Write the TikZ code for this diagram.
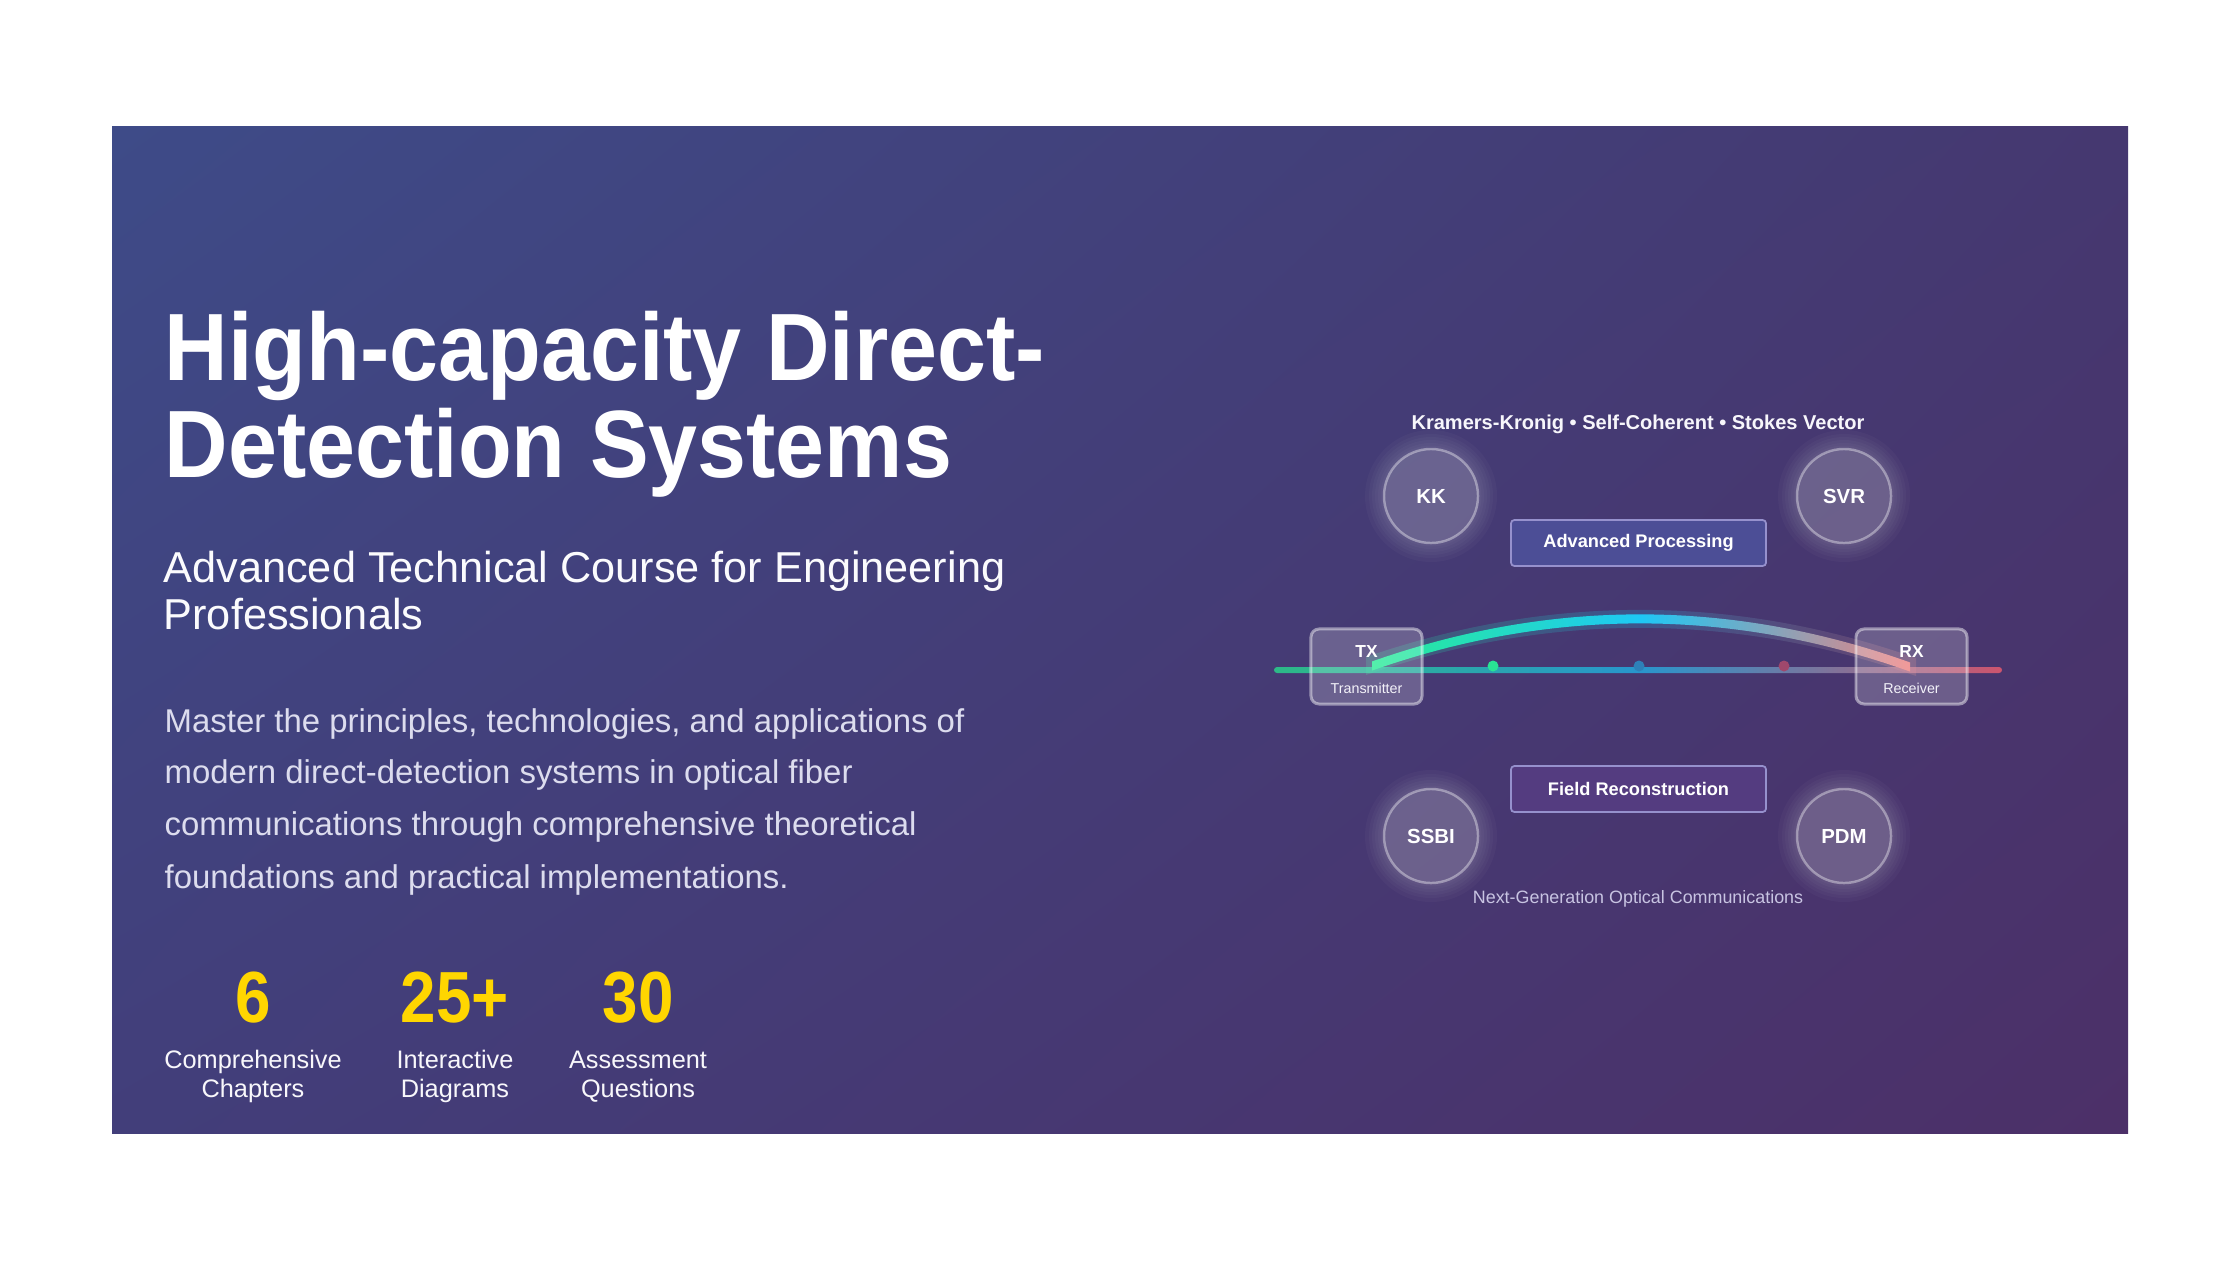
\documentclass[tikz,border=0pt]{standalone}
\usepackage{fontspec}
\setmainfont{Liberation Sans}
\newfontfamily\condfont[FakeStretch=0.92]{Liberation Sans}
\newfontfamily\numfont[FakeStretch=0.88]{Liberation Sans}
\usetikzlibrary{shadings}
\definecolor{bgUL}{RGB}{62,75,136}
\definecolor{bgUR}{RGB}{69,56,112}
\definecolor{bgLL}{RGB}{66,62,122}
\definecolor{bgLR}{RGB}{76,48,104}
\definecolor{paraC}{RGB}{220,220,238}
\definecolor{statY}{RGB}{255,214,0}
\definecolor{lav}{RGB}{150,145,205}
\definecolor{advF}{RGB}{76,78,150}
\definecolor{fldF}{RGB}{84,60,128}
\definecolor{fibG}{RGB}{45,185,135}
\definecolor{fibB}{RGB}{40,150,205}
\definecolor{fibR}{RGB}{205,85,110}
\definecolor{arcG}{RGB}{40,235,150}
\definecolor{arcC}{RGB}{30,200,245}
\definecolor{arcR}{RGB}{238,128,128}
\definecolor{nextC}{RGB}{200,196,226}
\begin{document}
\begin{tikzpicture}[x=0.01cm,y=-0.01cm,
  title/.style={anchor=base west,inner sep=0pt,text=white,font=\condfont\fontsize{27.2}{30}\selectfont\bfseries},
  subt/.style={anchor=base west,inner sep=0pt,text=white!96!lav,font=\fontsize{12.3}{15}\selectfont},
  para/.style={anchor=base west,inner sep=0pt,text=paraC,font=\fontsize{9.36}{12}\selectfont},
  statnum/.style={anchor=base,inner sep=0pt,text=statY,font=\numfont\fontsize{20.6}{24}\selectfont\bfseries},
  statlbl/.style={anchor=base,inner sep=0pt,text=white!93!lav,font=\fontsize{7.2}{9}\selectfont},
  circ/.style={circle,minimum size=0.94cm,inner sep=0pt,fill=white,fill opacity=0.08,text opacity=1,
    draw=white,draw opacity=0.38,line width=0.7pt,text=white,font=\fontsize{5.8}{7}\selectfont\bfseries},
  pbox/.style={rectangle,rounded corners=1pt,minimum width=2.55cm,minimum height=0.46cm,inner sep=0pt,
    draw=lav,line width=0.5pt,text=white,font=\fontsize{5.18}{6}\selectfont\bfseries},
  trx/.style={rectangle,rounded corners=2.3pt,minimum width=1.11cm,minimum height=0.75cm,inner sep=0pt,
    fill=white,fill opacity=0.2,draw=white,draw opacity=0.45,line width=0.85pt},
  trxT/.style={anchor=base,inner sep=0pt,text=white,font=\fontsize{4.95}{6}\selectfont\bfseries},
  trxS/.style={anchor=base,inner sep=0pt,text=white!88!lav,font=\fontsize{4.07}{5}\selectfont},
  dotn/.style={circle,minimum size=0.11cm,inner sep=0pt},
  hdr/.style={anchor=base,inner sep=0pt,text=white!92!lav,font=\fontsize{5.7}{7}\selectfont\bfseries},
  nxt/.style={anchor=base,inner sep=0pt,text=nextC,font=\fontsize{5.09}{6}\selectfont}
]
\useasboundingbox[fill=white] (0,0) rectangle (2240,1260);
\shade[upper left=bgUL,upper right=bgUR,lower left=bgLL,lower right=bgLR] (112,126) rectangle (2128,1133);

% left column
\node[title] (t1) at (164,380) {High-capacity Direct-};
\node[title] (t2) at (164,477) {Detection Systems};
\node[subt] (s1) at (163,582) {Advanced Technical Course for Engineering};
\node[subt] (s2) at (163,629) {Professionals};
\node[para] (p1) at (164,732) {Master the principles, technologies, and applications of};
\node[para] (p2) at (164,783) {modern direct-detection systems in optical fiber};
\node[para] (p3) at (164,835) {communications through comprehensive theoretical};
\node[para] (p4) at (164,888) {foundations and practical implementations.};

\node[statnum] (n1) at (253,1022) {6};
\node[statnum] (n2) at (455,1022) {25+};
\node[statnum] (n3) at (638,1022) {30};
\node[statlbl] (l1a) at (253,1068) {Comprehensive};
\node[statlbl] (l1b) at (253,1097) {Chapters};
\node[statlbl] (l2a) at (455,1068) {Interactive};
\node[statlbl] (l2b) at (455,1097) {Diagrams};
\node[statlbl] (l3a) at (638,1068) {Assessment};
\node[statlbl] (l3b) at (638,1097) {Questions};

% right panel
\node[hdr] (hd) at (1638,429) {Kramers-Kronig • Self-Coherent • Stokes Vector};

\foreach \p in {(1431,496),(1844,496),(1431,836),(1844,836)}{
  \foreach \r in {66,62,59,56,53,50.5}{
    \fill[white,opacity=0.028] \p circle (\r);
  }
}
\node[circ] (kk) at (1431,496) {KK};
\node[circ] (svr) at (1844,496) {SVR};
\node[circ] (ssbi) at (1431,836) {SSBI};
\node[circ] (pdm) at (1844,836) {PDM};

\node[pbox,fill=advF] (adv) at (1638.5,543) {Advanced Processing};
\node[pbox,fill=fldF] (fld) at (1638.5,789) {Field Reconstruction};

% fiber
\coordinate (fibL) at (1274,670);
\coordinate (fibR) at (2002,670);
\shade[left color=fibG,right color=fibR,middle color=fibB,rounded corners=0.85pt]
  ([yshift=0.85pt]fibL) rectangle ([yshift=-0.85pt]fibR);
\node[dotn,fill=arcG!85!fibG] (d1) at (1493,666) {};
\node[dotn,fill=fibB!75!bgLL] (d2) at (1639,666) {};
\node[dotn,fill=fibR!65!bgLR] (d3) at (1784,666) {};

% signal arc
\coordinate (aL) at (1372,666);
\coordinate (aR) at (1910,667);
\begin{scope}[opacity=0.2]
\shade[left color=arcG,right color=arcR,middle color=arcC]
  (1366,657) .. controls (1549,594) and (1733,594) .. (1916,658)
  -- (1916,676) .. controls (1733,612) and (1549,612) .. (1366,675) -- cycle;
\end{scope}
\shade[left color=arcG,right color=arcR,middle color=arcC]
  ([yshift=1.3pt]aL) .. controls (1551,598.5) and (1731,598.5) .. ([yshift=1.3pt]aR)
  -- ([yshift=-1.3pt]aR) .. controls (1731,607.5) and (1551,607.5) .. ([yshift=-1.3pt]aL) -- cycle;

\node[trx] (tx) at (1366.5,666.5) {};
\node[trx] (rx) at (1911.5,666.5) {};
\node[trxT] (txl) at (1366.5,657) {TX};
\node[trxS] (txs) at (1366.5,693) {Transmitter};
\node[trxT] (rxl) at (1911.5,657) {RX};
\node[trxS] (rxs) at (1911.5,693) {Receiver};

\node[nxt] (ng) at (1638,903) {Next-Generation Optical Communications};
\end{tikzpicture}
\end{document}
